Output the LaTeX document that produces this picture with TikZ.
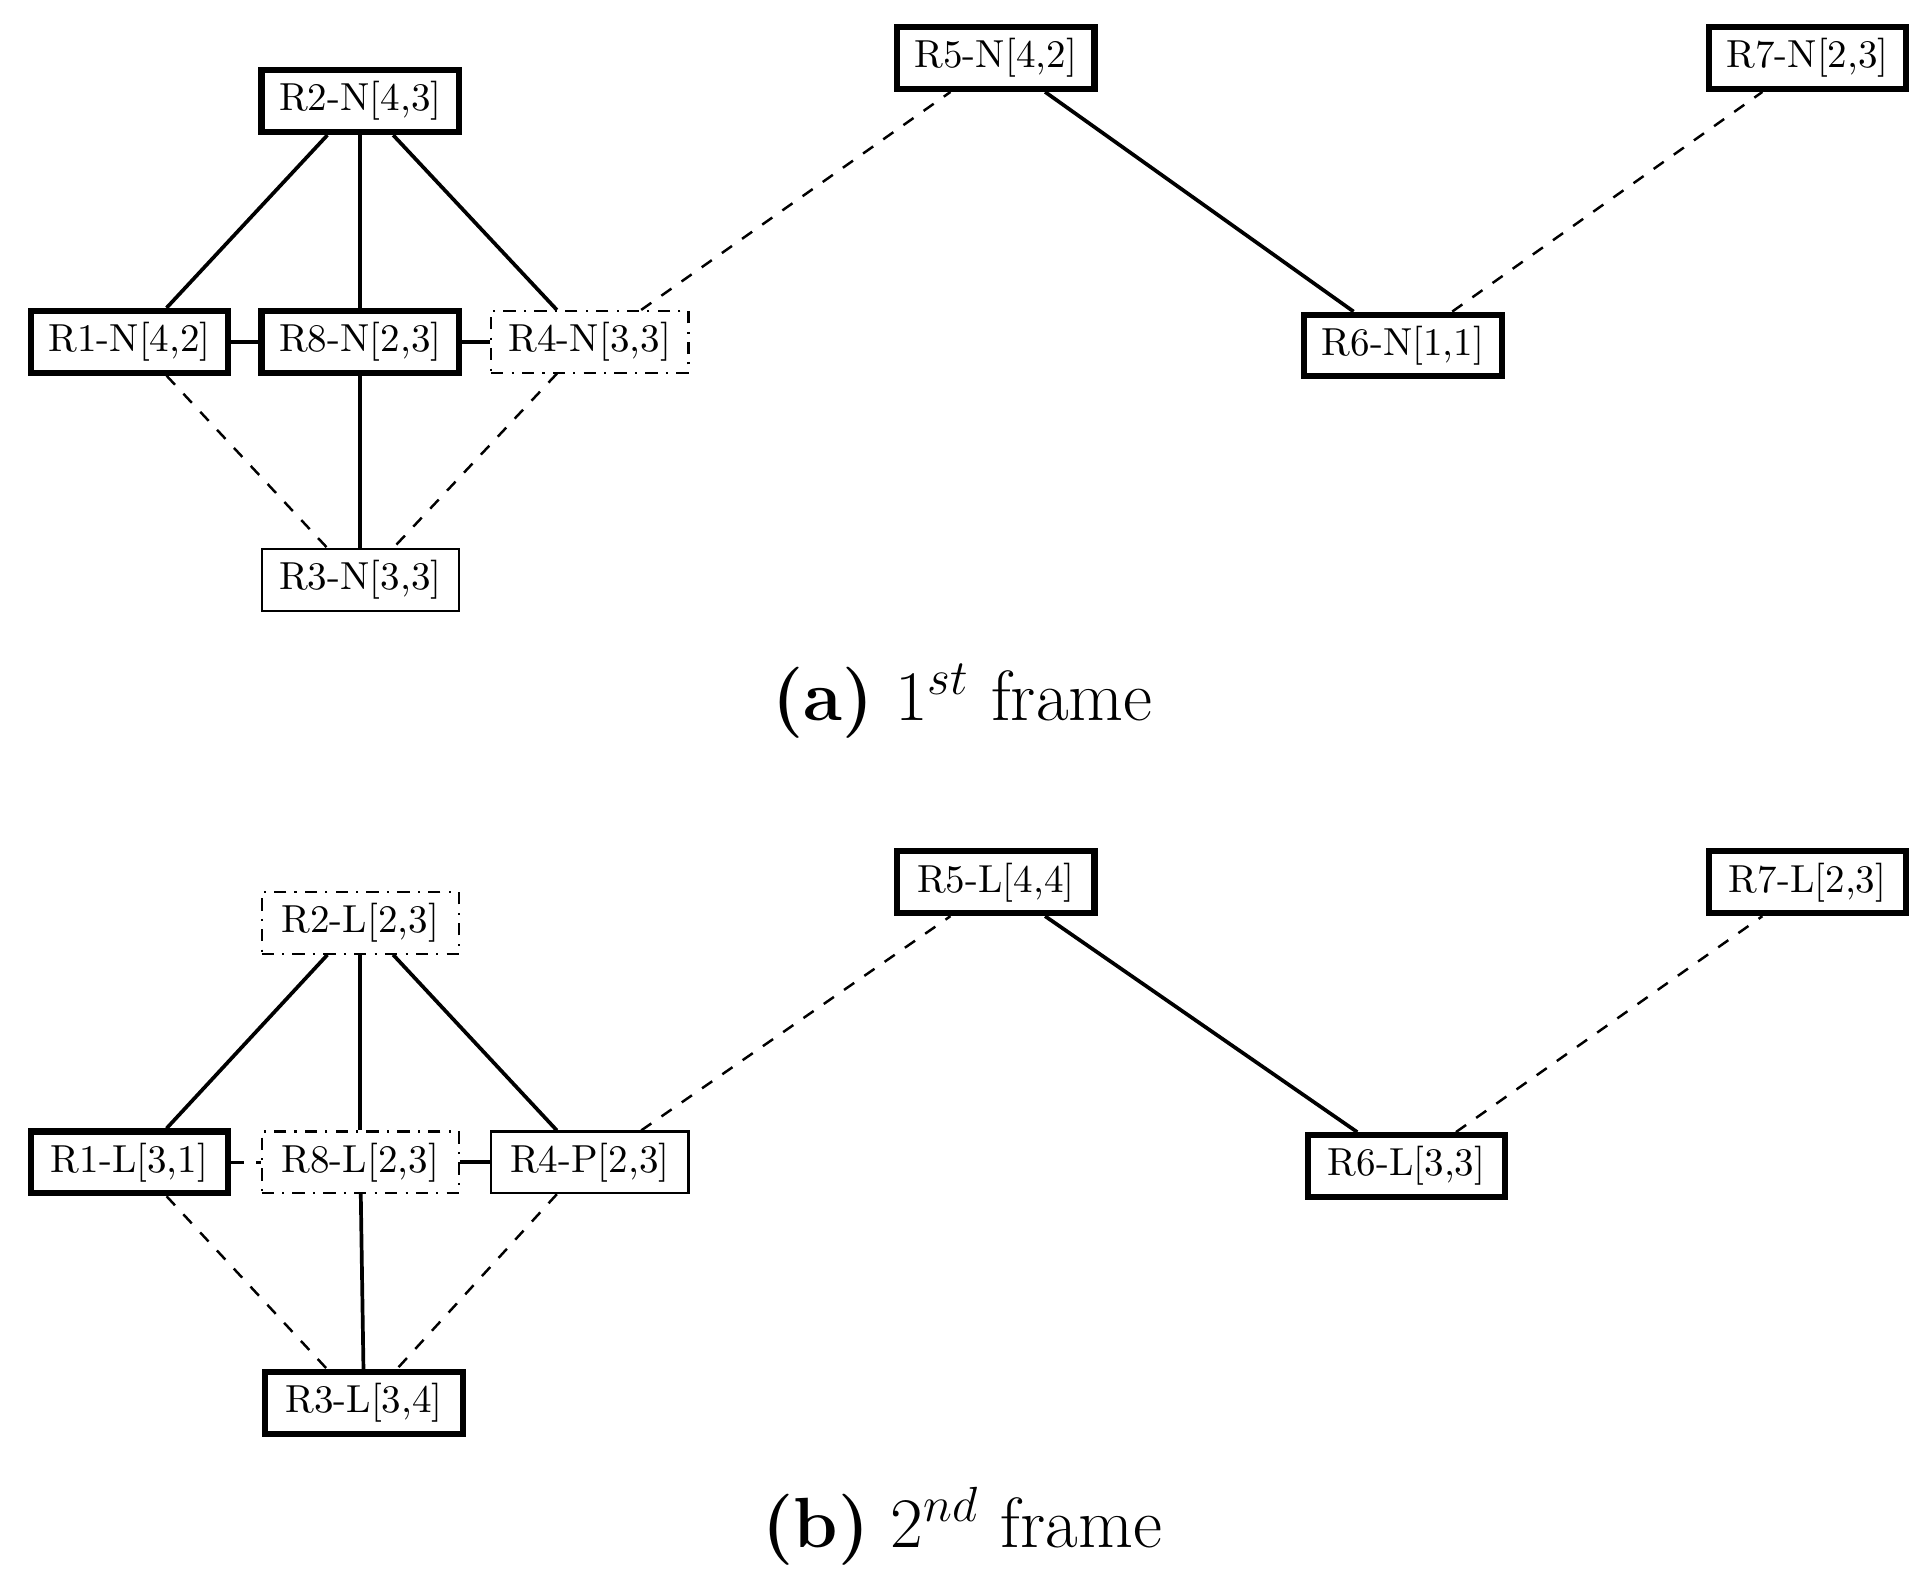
\documentclass[tikz,border=0pt]{standalone}
\usepackage{amsmath}
\begin{document}
\begin{tikzpicture}[x=0.3pt,y=-0.3pt,
  rbox/.style={draw,minimum width=48pt,minimum height=15pt,inner sep=1pt,font=\fontsize{9.5}{11}\selectfont},
  hard/.style={rbox,line width=1.5pt},
  soft/.style={rbox,line width=0.5pt},
  vague/.style={rbox,line width=0.5pt,dash dot},
  link/.style={line width=0.9pt},
  weak/.style={line width=0.6pt,dashed}]
  \useasboundingbox (0,0) rectangle (1565,1290);
  % first frame
  \node[hard](a2) at (292,82)   {R2-N[4,3]};
  \node[hard](a5) at (807,47)   {R5-N[4,2]};
  \node[hard](a7) at (1465,47)  {R7-N[2,3]};
  \node[hard](a1) at (105,277)  {R1-N[4,2]};
  \node[hard](a8) at (292,277)  {R8-N[2,3]};
  \node[vague](a4) at (478,277) {R4-N[3,3]};
  \node[hard](a6) at (1137,280) {R6-N[1,1]};
  \node[soft](a3) at (292,470)  {R3-N[3,3]};
  \node[font=\LARGE](capa) at (780,568) {\textbf{(a)} $1^{st}$ frame};
  \draw[link] ([xshift=-8pt]a2.south) -- ([xshift=9pt]a1.north);
  \draw[link] (a2) -- (a8);
  \draw[link] ([xshift=8pt]a2.south) -- ([xshift=-8pt]a4.north);
  \draw[link] (a1) -- (a8);
  \draw[link] (a8) -- (a4);
  \draw[link] (a8) -- (a3);
  \draw[weak] ([xshift=9pt]a1.south) -- ([xshift=-8pt]a3.north);
  \draw[weak] ([xshift=-8pt]a4.south) -- ([xshift=8pt]a3.north);
  \draw[weak] ([xshift=12.5pt]a4.north) -- ([xshift=-11pt]a5.south);
  \draw[link] ([xshift=12pt]a5.south) -- ([xshift=-12pt]a6.north);
  \draw[weak] ([xshift=12pt]a6.north) -- ([xshift=-11pt]a7.south);
  % second frame
  \node[vague](b2) at (292,748) {R2-L[2,3]};
  \node[hard](b5) at (807,715)  {R5-L[4,4]};
  \node[hard](b7) at (1465,715) {R7-L[2,3]};
  \node[hard](b1) at (105,942)  {R1-L[3,1]};
  \node[vague](b8) at (292,942) {R8-L[2,3]};
  \node[soft](b4) at (478,942)  {R4-P[2,3]};
  \node[hard](b6) at (1140,945) {R6-L[3,3]};
  \node[hard](b3) at (295,1137) {R3-L[3,4]};
  \node[font=\LARGE](capb) at (780,1237) {\textbf{(b)} $2^{nd}$ frame};
  \draw[link] ([xshift=-8pt]b2.south) -- ([xshift=9pt]b1.north);
  \draw[link] (b2) -- (b8);
  \draw[link] ([xshift=8pt]b2.south) -- ([xshift=-8pt]b4.north);
  \draw[weak] (b1) -- (b8);
  \draw[link] (b8) -- (b4);
  \draw[link] (b8) -- (b3);
  \draw[weak] ([xshift=9pt]b1.south) -- ([xshift=-9pt]b3.north);
  \draw[weak] ([xshift=-8pt]b4.south) -- ([xshift=8pt]b3.north);
  \draw[weak] ([xshift=12.5pt]b4.north) -- ([xshift=-11pt]b5.south);
  \draw[link] ([xshift=12pt]b5.south) -- ([xshift=-12pt]b6.north);
  \draw[weak] ([xshift=12pt]b6.north) -- ([xshift=-11pt]b7.south);
\end{tikzpicture}
\end{document}
